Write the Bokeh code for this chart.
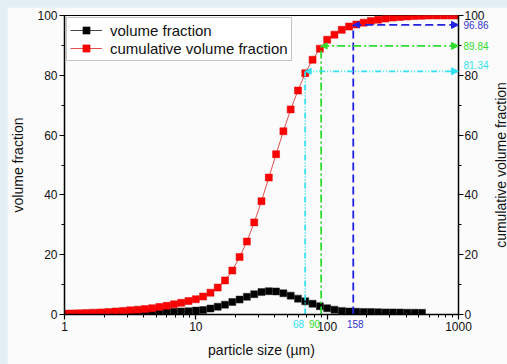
import math
from bokeh.plotting import figure
from bokeh.models import (Range1d, LinearAxis, LogAxis, LogScale, FixedTicker, Label, Arrow,
                          NormalHead, Legend, LegendItem, ColumnDataSource)
from bokeh.layouts import column
from bokeh.embed import file_html
from bokeh.resources import INLINE

# ---------------- data ----------------
sizes = [1.000, 1.136, 1.292, 1.468, 1.668, 1.896, 2.154, 2.448, 2.783, 3.162,
         3.594, 4.084, 4.642, 5.275, 5.995, 6.813, 7.743, 8.799, 10.00, 11.36,
         12.92, 14.68, 16.68, 18.96, 21.54, 24.48, 27.83, 31.62, 35.94, 40.84,
         46.42, 52.75, 59.95, 68.13, 77.43, 87.99, 100.0, 113.6, 129.2, 146.8,
         166.8, 189.6, 215.4, 244.8, 278.3, 316.2, 359.4, 408.4, 464.2, 527.5,
         599.5, 681.3, 774.3, 879.9, 1000.0]

volume_fraction = [0, 0, 0, 0, 0.05, 0.05, 0.1, 0.1, 0.15, 0.2,
                   0.3, 0.45, 0.6, 0.75, 0.85, 0.95, 1.0, 1.1, 1.3, 1.5,
                   2.0, 2.6, 3.3, 4.2, 5.0, 5.9, 6.8, 7.5, 7.8, 7.7,
                   7.1, 6.3, 5.3, 4.4, 3.6, 2.8, 2.1, 1.6, 1.2, 1.0,
                   0.9, 0.85, 0.8, 0.75, 0.7, 0.7, 0.65, 0.6, 0.6, 0.55]

cumulative_fraction = [0.3, 0.35, 0.4, 0.5, 0.6, 0.7, 0.85, 1.0, 1.2, 1.4,
                       1.6, 1.8, 2.1, 2.5, 2.9, 3.4, 3.9, 4.5, 5.1, 6.0,
                       7.3, 9.0, 11.4, 14.7, 19.2, 24.4, 30.8, 37.9, 45.8, 53.6,
                       61.3, 68.6, 74.9, 80.7, 85.2, 88.9, 91.9, 93.6, 95.2, 96.3,
                       97.0, 97.6, 98.2, 98.6, 99.0, 99.3, 99.5, 99.7, 99.8, 99.9,
                       100, 100, 100, 100, 100]

# marked diameters and their cumulative values
marker_sizes = [68, 90, 158]
marker_cum = [81.34, 89.84, 96.86]
marker_size_labels = ["68", "90", "158"]
marker_cum_labels = ["81.34", "89.84", "96.86"]
marker_colors = ["#33E0F0", "#2EDD2E", "#2222E0"]
marker_text_colors = ["#33E0F0", "#2EDD2E", "#3333CC"]
marker_dash = ["6 2 1 2 1 2", "8 3 2 3", "8 4"]

x_ticks = [1, 10, 100, 1000]
x_tick_labels = ["1", "10", "100", "1000"]
y_ticks = [0, 20, 40, 60, 80, 100]
x_max = 1000

FONT = "Liberation Sans"

# frame: 395 x 299 at (63, 15); right/bottom borders are oversized so that the
# side panels holding the outside texts never squeeze the frame
FIG_W = 56 + 395 + 160
FIG_H = 8 + 299 + 120
p = figure(width=FIG_W, height=FIG_H, x_axis_type=None, y_axis_type=None,
           x_range=Range1d(1, x_max), y_range=Range1d(0, 100),
           output_backend="svg", toolbar_location=None,
           min_border_left=56, min_border_right=160, min_border_top=8, min_border_bottom=120)
p.x_scale = LogScale()
p.extra_y_ranges = {"cum": Range1d(0, 100)}
p.background_fill_color = "#FBFBFB"
p.border_fill_color = "#FBFBFB"
p.outline_line_color = "black"
p.outline_line_width = 1
p.grid.visible = False
p.margin = (7, 0, 0, 7)


def style_axis(ax):
    ax.axis_line_width = 1.5
    ax.axis_line_color = "black"
    ax.major_tick_out = 5
    ax.major_tick_in = 0
    ax.minor_tick_out = 3
    ax.minor_tick_in = 0
    ax.major_tick_line_width = 1.2
    ax.minor_tick_line_width = 1.0
    ax.major_label_text_font = FONT
    ax.major_label_text_font_size = "12px"
    ax.major_label_text_color = "#111111"
    ax.axis_label_text_font = FONT
    ax.axis_label_text_font_size = "14px"
    ax.axis_label_text_font_style = "normal"
    ax.axis_label_text_color = "#111111"
    ax.major_label_standoff = 2


minor_x = [m * 10 ** e for e in range(0, 3) for m in range(2, 10)]
xaxis = LogAxis(ticker=FixedTicker(ticks=x_ticks, minor_ticks=minor_x),
                axis_label="particle size (µm)")
xaxis.major_label_overrides = {t: l for t, l in zip(x_ticks, x_tick_labels)}
style_axis(xaxis)
xaxis.axis_label_standoff = 8
p.add_layout(xaxis, "below")

minor_y = [10, 30, 50, 70, 90]
yaxis = LinearAxis(ticker=FixedTicker(ticks=y_ticks, minor_ticks=minor_y),
                   axis_label="volume fraction")
style_axis(yaxis)
yaxis.axis_label_standoff = 8
p.add_layout(yaxis, "left")

y2axis = LinearAxis(y_range_name="cum", ticker=FixedTicker(ticks=y_ticks, minor_ticks=minor_y))
style_axis(y2axis)
y2axis.major_label_standoff = 1
p.add_layout(y2axis, "right")

# ---------------- series ----------------
src_v = ColumnDataSource(dict(x=sizes[:len(volume_fraction)], y=volume_fraction))
src_c = ColumnDataSource(dict(x=sizes, y=cumulative_fraction))

lv = p.line("x", "y", source=src_v, line_color="#444444", line_width=1)
sv = p.scatter("x", "y", source=src_v, marker="square", size=7,
               fill_color="black", line_color="#222222", line_width=0.5)
lc = p.line("x", "y", source=src_c, y_range_name="cum", line_color="#E05050", line_width=1)
sc = p.scatter("x", "y", source=src_c, y_range_name="cum", marker="square", size=7,
               fill_color="#FF0000", line_color="#DD0000", line_width=0.5)

# ---------------- markers / arrows ----------------
for d, c, col, dash in zip(marker_sizes, marker_cum, marker_colors, marker_dash):
    p.segment(x0=[d], y0=[0], x1=[d], y1=[c], y_range_name="cum",
              line_color=col, line_width=1.8, line_dash=dash)
    arr = Arrow(x_start=d, y_start=c, x_end=x_max, y_end=c, y_range_name="cum",
                line_color=col, line_width=1.8, line_dash=dash,
                start=NormalHead(size=6, fill_color=col, line_color=col, line_width=1),
                end=NormalHead(size=7, fill_color=col, line_color=col, line_width=1))
    p.add_layout(arr)

# ---------------- texts outside the frame (Labels in side panels, data-positioned) ----------------
size_label_align = ["right", "right", "center"]
size_label_xoff = [-1, -1, 2]
for d, slab, tcol, al, xo in zip(marker_sizes, marker_size_labels, marker_text_colors,
                                 size_label_align, size_label_xoff):
    p.add_layout(Label(x=d, y=0, y_range_name="cum", text=slab, text_color=tcol,
                       text_font=FONT, text_font_size="10px", text_align=al,
                       text_baseline="middle", x_offset=xo, y_offset=-9), "below")

cum_label_yoff = [6, 0, 0]
for c, clab, tcol, yo in zip(marker_cum, marker_cum_labels, marker_text_colors, cum_label_yoff):
    p.add_layout(Label(x=x_max, y=c, y_range_name="cum", text=clab, text_color=tcol,
                       text_font=FONT, text_font_size="10px", text_align="left",
                       text_baseline="middle", x_offset=5, y_offset=yo), "right")

p.add_layout(Label(x=x_max, y=50, y_range_name="cum", text="cumulative volume fraction",
                   text_color="#111111", text_font=FONT, text_font_size="14px",
                   text_align="center", text_baseline="middle", angle=math.pi / 2,
                   x_offset=42), "right")

# ---------------- legend ----------------
legend = Legend(items=[LegendItem(label="volume fraction", renderers=[lv, sv]),
                       LegendItem(label="cumulative volume fraction", renderers=[lc, sc])],
                location="top_left")
legend.margin = 2
legend.padding = 3
legend.spacing = 0
legend.glyph_width = 32
legend.glyph_height = 18
legend.label_height = 18
legend.label_standoff = 8
legend.label_text_font = FONT
legend.label_text_font_size = "15px"
legend.label_text_color = "#111111"
legend.border_line_color = "#888888"
legend.border_line_width = 1
legend.background_fill_color = "white"
legend.background_fill_alpha = 1
p.add_layout(legend)

layout = column(p, width=FIG_W + 7, height=FIG_H + 7,
                styles={"background-color": "#E4EFF3"})

open("out.html", "w").write(file_html(layout, INLINE))
